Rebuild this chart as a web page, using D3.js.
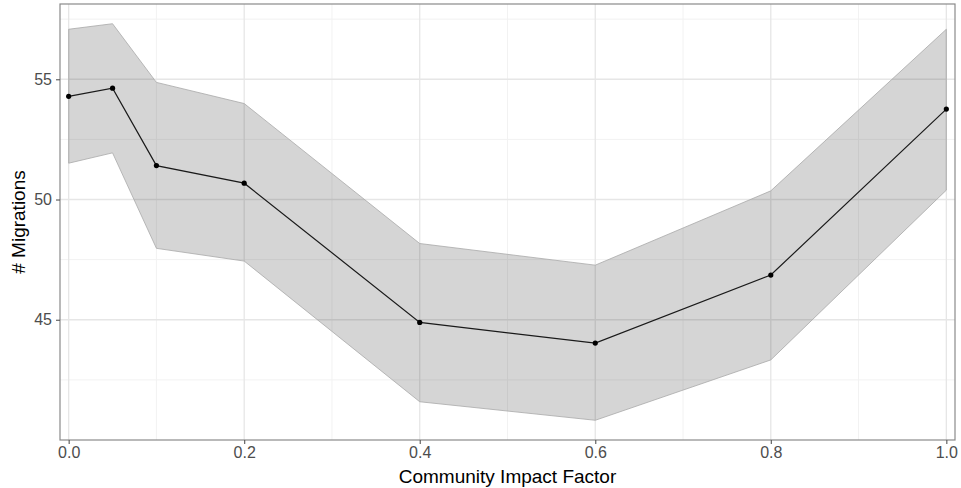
<!DOCTYPE html>
<html><head><meta charset="utf-8">
<script src="https://cdn.jsdelivr.net/npm/d3@7"></script>
<style>body{margin:0;background:#fff;}svg{display:block;font-family:"Liberation Sans",Arial,sans-serif;}</style>
</head><body><svg id="c" width="961" height="488"></svg>
<script>
const xs = [0, 0.05, 0.1, 0.2, 0.4, 0.6, 0.8, 1.0];
const mean = [54.29, 54.63, 51.41, 50.68, 44.89, 44.03, 46.86, 53.76];
const upper = [57.08, 57.31, 54.87, 53.99, 48.17, 47.27, 50.36, 57.08];
const lower = [51.51, 51.94, 47.97, 47.44, 41.59, 40.82, 43.33, 50.39];
const xTicks = [0, 0.2, 0.4, 0.6, 0.8, 1.0];
const xMinor = [0.1, 0.3, 0.5, 0.7, 0.9];
const yTicks = [45, 50, 55];
const yMinor = [42.5, 47.5, 52.5, 57.5];
const xTitle = "Community Impact Factor";
const yTitle = "# Migrations";

const svg = d3.select("#c");
const P = {l:60, r:955, t:4, b:440};
const x = d3.scaleLinear().domain([-0.00987, 1.00987]).range([P.l, P.r]);
const y = d3.scaleLinear().domain([40.0, 58.13]).range([P.b, P.t]);

const g = svg.append("g");
xMinor.forEach(v=>g.append("line").attr("x1",x(v)).attr("x2",x(v)).attr("y1",P.t).attr("y2",P.b).attr("stroke","#f2f2f2").attr("stroke-width",1));
yMinor.forEach(v=>g.append("line").attr("x1",P.l).attr("x2",P.r).attr("y1",y(v)).attr("y2",y(v)).attr("stroke","#f2f2f2").attr("stroke-width",1));
xTicks.forEach(v=>g.append("line").attr("x1",x(v)).attr("x2",x(v)).attr("y1",P.t).attr("y2",P.b).attr("stroke","#e6e6e6").attr("stroke-width",1.3));
yTicks.forEach(v=>g.append("line").attr("x1",P.l).attr("x2",P.r).attr("y1",y(v)).attr("y2",y(v)).attr("stroke","#e6e6e6").attr("stroke-width",1.3));

const data = xs.map((v,i)=>({x:v,m:mean[i],u:upper[i],lo:lower[i]}));
g.append("path").datum(data)
 .attr("d", d3.area().x(d=>x(d.x)).y0(d=>y(d.lo)).y1(d=>y(d.u)))
 .attr("fill","#000").attr("fill-opacity",0.165)
 .attr("stroke","#a8a8a8").attr("stroke-width",0.8);
g.append("path").datum(data)
 .attr("d", d3.line().x(d=>x(d.x)).y(d=>y(d.m)))
 .attr("fill","none").attr("stroke","#1a1a1a").attr("stroke-width",1.2);
g.selectAll("circle.p").data(data).enter().append("circle")
 .attr("cx",d=>x(d.x)).attr("cy",d=>y(d.m)).attr("r",2.6).attr("fill","#000");

svg.append("rect").attr("x",P.l).attr("y",P.t).attr("width",P.r-P.l).attr("height",P.b-P.t)
 .attr("fill","none").attr("stroke","#8a8a8a").attr("stroke-width",1.2);

const xa = svg.append("g").attr("transform",`translate(0,${P.b})`)
 .call(d3.axisBottom(x).tickValues(xTicks).tickFormat(d3.format(".1f")).tickSize(4).tickPadding(3));
const ya = svg.append("g").attr("transform",`translate(${P.l},0)`)
 .call(d3.axisLeft(y).tickValues(yTicks).tickFormat(d3.format("d")).tickSize(4).tickPadding(4));
[xa,ya].forEach(a=>{
  a.select(".domain").remove();
  a.selectAll(".tick line").attr("stroke","#555").attr("stroke-width",1.1);
  a.selectAll(".tick text").attr("fill","#4d4d4d").style("font-size","16px").style("font-family","Liberation Sans, Arial, sans-serif");
});

svg.append("text").attr("x",(P.l+P.r)/2).attr("y",483).attr("text-anchor","middle")
 .style("font-size","19px").attr("fill","#000").text(xTitle);
svg.append("text").attr("transform",`translate(25,${(P.t+P.b)/2}) rotate(-90)`).attr("text-anchor","middle")
 .style("font-size","19px").attr("fill","#000").text(yTitle);
</script></body></html>
